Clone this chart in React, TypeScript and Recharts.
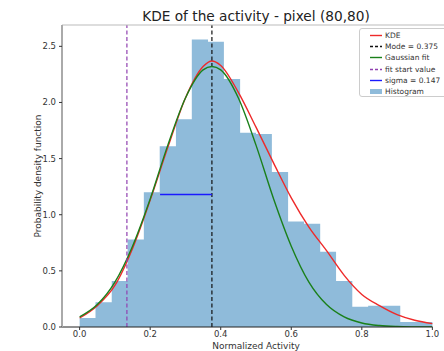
import React from "react";
import {
  ComposedChart,
  Area,
  Line,
  XAxis,
  YAxis,
  ReferenceLine,
  Label,
} from "recharts";

// histogram (density), 22 bins over [0, 1]
const binEdges = [
  0, 0.045, 0.091, 0.136, 0.182, 0.227, 0.273, 0.318, 0.364, 0.409, 0.455, 0.5,
  0.545, 0.591, 0.636, 0.682, 0.727, 0.773, 0.818, 0.864, 0.909, 0.955, 1.0,
];
const histDensity = [
  0.08, 0.22, 0.41, 0.78, 1.2, 1.61, 1.85, 2.56, 2.54, 2.21, 1.73, 1.72, 1.38,
  0.94, 0.92, 0.67, 0.41, 0.18, 0.19, 0.19, 0.045, 0.045,
];

// curves
const curveX = [
  0, 0.05, 0.1, 0.15, 0.2, 0.25, 0.3, 0.35, 0.375, 0.4, 0.45, 0.5, 0.55, 0.6,
  0.65, 0.7, 0.75, 0.8, 0.85, 0.9, 0.95, 1.0,
];
const kdeY = [
  0.08, 0.19, 0.37, 0.7, 1.13, 1.6, 2.04, 2.32, 2.37, 2.33, 2.09, 1.78, 1.46,
  1.15, 0.89, 0.68, 0.46, 0.29, 0.19, 0.11, 0.06, 0.03,
];
const gaussY = [
  0.09, 0.2, 0.4, 0.72, 1.14, 1.62, 2.04, 2.29, 2.32, 2.29, 2.04, 1.62, 1.14,
  0.72, 0.4, 0.2, 0.09, 0.036, 0.013, 0.004, 0.001, 0,
];

const mode = 0.375;
const fitStart = 0.134;
const sigma = 0.147;
const sigmaLevel = 1.18;

const xTicks = [0, 0.2, 0.4, 0.6, 0.8, 1.0];
const yTicks = [0, 0.5, 1.0, 1.5, 2.0, 2.5];
const yMax = 2.69;

const HIST_COLOR = "#8fbbda";

type Row = { x: number; hist: number | null; kde: number | null; gauss: number | null };

function buildTable(): Row[] {
  const rows = new Map<string, Row>();
  const get = (x: number) => {
    const k = x.toFixed(4);
    if (!rows.has(k)) rows.set(k, { x, hist: null, kde: null, gauss: null });
    return rows.get(k)!;
  };
  binEdges.forEach((e, i) => {
    get(e).hist = histDensity[Math.min(i, histDensity.length - 1)];
  });
  curveX.forEach((x, i) => {
    const r = get(x);
    r.kde = kdeY[i];
    r.gauss = gaussY[i];
  });
  return Array.from(rows.values()).sort((a, b) => a.x - b.x);
}

const table = buildTable();

const legendItems = [
  { label: "KDE", color: "#ee2a2a", dash: undefined, patch: false },
  { label: "Mode = 0.375", color: "#111", dash: "3 2", patch: false },
  { label: "Gaussian fit", color: "#1a801a", dash: undefined, patch: false },
  { label: "fit start value", color: "#9040b0", dash: "3 2", patch: false },
  { label: "sigma = 0.147", color: "#1a1aff", dash: undefined, patch: false },
  { label: "Histogram", color: HIST_COLOR, dash: undefined, patch: true },
];

export default function App() {
  return (
    <div
      style={{
        position: "absolute",
        left: 0,
        top: 0,
        width: 444,
        height: 351,
        overflow: "hidden",
        background: "#fff",
        fontFamily: '"DejaVu Sans", sans-serif',
      }}
    >
      <div
        style={{
          position: "absolute",
          left: 0,
          width: 512,
          top: 9.7,
          textAlign: "center",
          fontSize: 13.7,
          lineHeight: 1,
          color: "#222",
          whiteSpace: "nowrap",
        }}
      >
        KDE of the activity - pixel (80,80)
      </div>

      <ComposedChart
        width={452}
        height={351}
        data={table}
        margin={{ top: 25, right: 2, bottom: 0, left: 0 }}
      >
        <XAxis
          dataKey="x"
          type="number"
          domain={[-0.05, 1.05]}
          ticks={xTicks}
          tickFormatter={(v) => v.toFixed(1)}
          tick={{ fontSize: 8.5, fill: "#333" }}
          tickLine={{ stroke: "#333" }}
          tickSize={3}
          tickMargin={1}
          axisLine={false}
          height={24}
          allowDataOverflow
        >
          <Label
            content={(props: any) => {
              const vb = props.viewBox || {};
              return (
                <text
                  x={vb.x + vb.width / 2}
                  y={348.5}
                  textAnchor="middle"
                  fontSize={9}
                  fill="#333"
                >
                  Normalized Activity
                </text>
              );
            }}
          />
        </XAxis>
        <YAxis
          type="number"
          domain={[0, yMax]}
          ticks={yTicks}
          tickFormatter={(v) => v.toFixed(1)}
          tick={{ fontSize: 8.5, fill: "#333" }}
          tickLine={{ stroke: "#333" }}
          tickSize={3}
          tickMargin={3}
          axisLine={{ stroke: "#aaa", strokeWidth: 2 }}
          width={62}
          allowDataOverflow
        >
          <Label
            content={(props: any) => {
              const vb = props.viewBox || {};
              const cy = vb.y + vb.height / 2;
              return (
                <text
                  transform={`translate(40.5, ${cy}) rotate(-90)`}
                  textAnchor="middle"
                  fontSize={9}
                  fill="#333"
                >
                  Probability density function
                </text>
              );
            }}
          />
        </YAxis>

        <Area
          dataKey="hist"
          type="stepAfter"
          fill={HIST_COLOR}
          fillOpacity={1}
          stroke="none"
          connectNulls
          isAnimationActive={false}
          dot={false}
          activeDot={false}
        />
        <Line
          dataKey="kde"
          type="monotone"
          stroke="#ee2a2a"
          strokeWidth={1.4}
          dot={false}
          activeDot={false}
          connectNulls
          isAnimationActive={false}
        />
        <ReferenceLine x={mode} stroke="#111" strokeWidth={1.2} strokeDasharray="4 2.5" />
        <Line
          dataKey="gauss"
          type="monotone"
          stroke="#1a801a"
          strokeWidth={1.4}
          dot={false}
          activeDot={false}
          connectNulls
          isAnimationActive={false}
        />
        <ReferenceLine x={fitStart} stroke="#9040b0" strokeWidth={1.2} strokeDasharray="4 2.5" />
        <ReferenceLine
          segment={[
            { x: mode - sigma, y: sigmaLevel },
            { x: mode, y: sigmaLevel },
          ]}
          stroke="#1a1aff"
          strokeWidth={1.4}
        />
        <ReferenceLine
          segment={[
            { x: -0.05, y: 0 },
            { x: 1.0, y: 0 },
          ]}
          stroke="#222"
          strokeWidth={1}
        />
        <ReferenceLine
          segment={[
            { x: -0.05, y: yMax },
            { x: 1.05, y: yMax },
          ]}
          stroke="#bbb"
          strokeWidth={1}
        />
      </ComposedChart>

      <div
        style={{
          position: "absolute",
          left: 359,
          top: 28,
          width: 110,
          height: 69,
          border: "1px solid #ccc",
          borderRadius: 3,
          background: "rgba(255,255,255,0.8)",
          boxSizing: "border-box",
          paddingTop: 1,
        }}
      >
        {legendItems.map((it) => (
          <div
            key={it.label}
            style={{
              height: 11.2,
              display: "flex",
              alignItems: "center",
              fontSize: 7.5,
              color: "#333",
              whiteSpace: "nowrap",
            }}
          >
            <svg width={25} height={11} style={{ flex: "none" }}>
              {it.patch ? (
                <rect x={10} y={3} width={12} height={5} fill={it.color} />
              ) : (
                <line
                  x1={10}
                  x2={22}
                  y1={5.5}
                  y2={5.5}
                  stroke={it.color}
                  strokeWidth={1.4}
                  strokeDasharray={it.dash}
                />
              )}
            </svg>
            <span>{it.label}</span>
          </div>
        ))}
      </div>
    </div>
  );
}
